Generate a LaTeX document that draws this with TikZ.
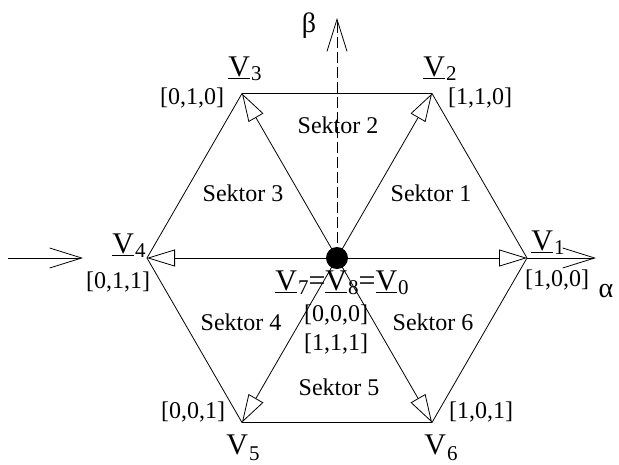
\documentclass[tikz,border=0pt]{standalone}
\usepackage{fontspec}
\setmainfont{Liberation Serif}
\usetikzlibrary{arrows.meta}
\newcommand\Vl[1]{\underline{V}\kern1pt\raisebox{-4pt}{\fontsize{21}{21}\selectfont #1}}
\newcommand\Vn[1]{V\kern1pt\raisebox{-6pt}{\fontsize{21}{21}\selectfont #1}}
\begin{document}
\begin{tikzpicture}[x=1pt,y=-1pt, line width=0.8pt,
  spoke/.style={-{Triangle[open,length=28pt,width=17pt]}},
  barb/.style={-{Straight Barb[length=32pt,width=20pt]}},
  lbl/.style={font=\fontsize{24}{24}\selectfont, inner sep=0pt},
  greek/.style={font=\fontsize{28}{28}\selectfont, inner sep=0pt},
  vlbl/.style={font=\fontsize{30}{30}\selectfont, inner sep=0pt}]
\useasboundingbox (0,0) rectangle (619,464);
\coordinate (O) at (337,258);
\coordinate (P1) at (527,258);
\coordinate (P2) at (432,93.5);
\coordinate (P3) at (242,93.5);
\coordinate (P4) at (147,258);
\coordinate (P5) at (242,422.5);
\coordinate (P6) at (432,422.5);
\coordinate (L0) at (8,258);
\coordinate (L1) at (83,258);
\coordinate (A1) at (596,258);
\coordinate (B1) at (337,18);
% hexagon
\draw (P1)--(P2)--(P3)--(P4)--(P5)--(P6)--cycle;
% axes
\draw[barb] (L0) -- (L1);
\draw[barb] (P1) -- (A1);
\draw[barb, dash pattern=on 11pt off 4pt] (O) -- (B1);
% spokes
\foreach \i in {1,...,6} \draw[spoke] (O) -- (P\i);
\node[circle, fill=black, minimum size=22pt, inner sep=0pt] (dot) at (O) {};
% labels
\node[greek] (beta) at (309,26) {β};
\node[greek] (alpha) at (606,291) {α};
\node[vlbl] (v3) at (245,69) {\Vl{3}};
\node[lbl] (b3) at (192,98) {[0,1,0]};
\node[vlbl] (v2) at (440,69) {\Vl{2}};
\node[lbl] (b2) at (480,98) {[1,1,0]};
\node[vlbl] (v4) at (129,246) {\Vl{4}};
\node[lbl] (b4) at (118,282) {[0,1,1]};
\node[vlbl] (v1) at (548,243) {\Vl{1}};
\node[lbl] (b1) at (557,280) {[1,0,0]};
\node[vlbl] (v0) at (342,283) {\Vl{7}=\Vl{8}=\Vl{0}};
\node[lbl] (b0a) at (336,315) {[0,0,0]};
\node[lbl] (b0b) at (336,344) {[1,1,1]};
\node[lbl] (b5) at (193,412) {[0,0,1]};
\node[vlbl] (v5) at (243,448) {\Vn{5}};
\node[lbl] (b6) at (481,412) {[1,0,1]};
\node[vlbl] (v6) at (441,448) {\Vn{6}};
\node[lbl] (s1) at (431,193) {Sektor 1};
\node[lbl] (s2) at (338,125) {Sektor 2};
\node[lbl] (s3) at (243,193) {Sektor 3};
\node[lbl] (s4) at (241,322) {Sektor 4};
\node[lbl] (s5) at (339,387) {Sektor 5};
\node[lbl] (s6) at (433,322) {Sektor 6};
\end{tikzpicture}
\end{document}
